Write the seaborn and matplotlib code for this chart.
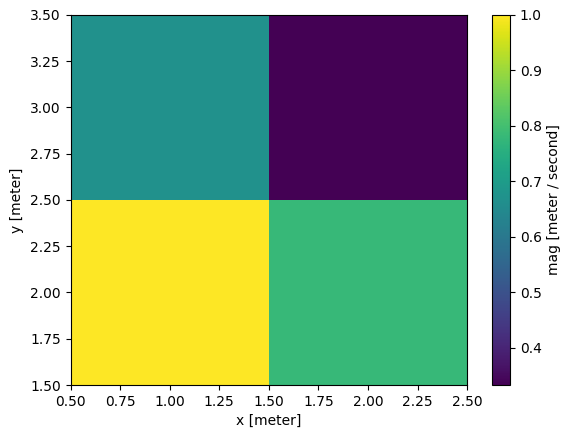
import numpy as np
import matplotlib
matplotlib.use("Agg")
import matplotlib.pyplot as plt
import seaborn as sns

# ── DATA ─────────────────────────────────────────────
x_centers = [1.0, 2.0]          # meter
y_centers = [2.0, 3.0]          # meter
mag_row_y2 = [1.0, 0.78]        # meter / second
mag_row_y3 = [0.667, 0.333]

mag = np.array([mag_row_y2, mag_row_y3])
x_edges = np.array([0.5, 1.5, 2.5])
y_edges = np.array([1.5, 2.5, 3.5])

# ── PLOT ─────────────────────────────────────────────
cmap = sns.color_palette("viridis", as_cmap=True)

fig = plt.figure(figsize=(5.71, 4.38), dpi=100)
ax = fig.add_axes([0.1235, 0.121, 0.6945, 0.845])
cax = fig.add_axes([0.8617, 0.121, 0.0315, 0.845])

mesh = ax.pcolormesh(x_edges, y_edges, mag, cmap=cmap,
                     vmin=mag.min(), vmax=mag.max())
cbar = fig.colorbar(mesh, cax=cax)
cbar.set_label("mag [meter / second]")

ax.set_xlabel("x [meter]")
ax.set_ylabel("y [meter]")
ax.set_xticks(np.arange(0.5, 2.51, 0.25))
ax.set_yticks(np.arange(1.5, 3.51, 0.25))

fig.savefig("out.png", dpi=100)
